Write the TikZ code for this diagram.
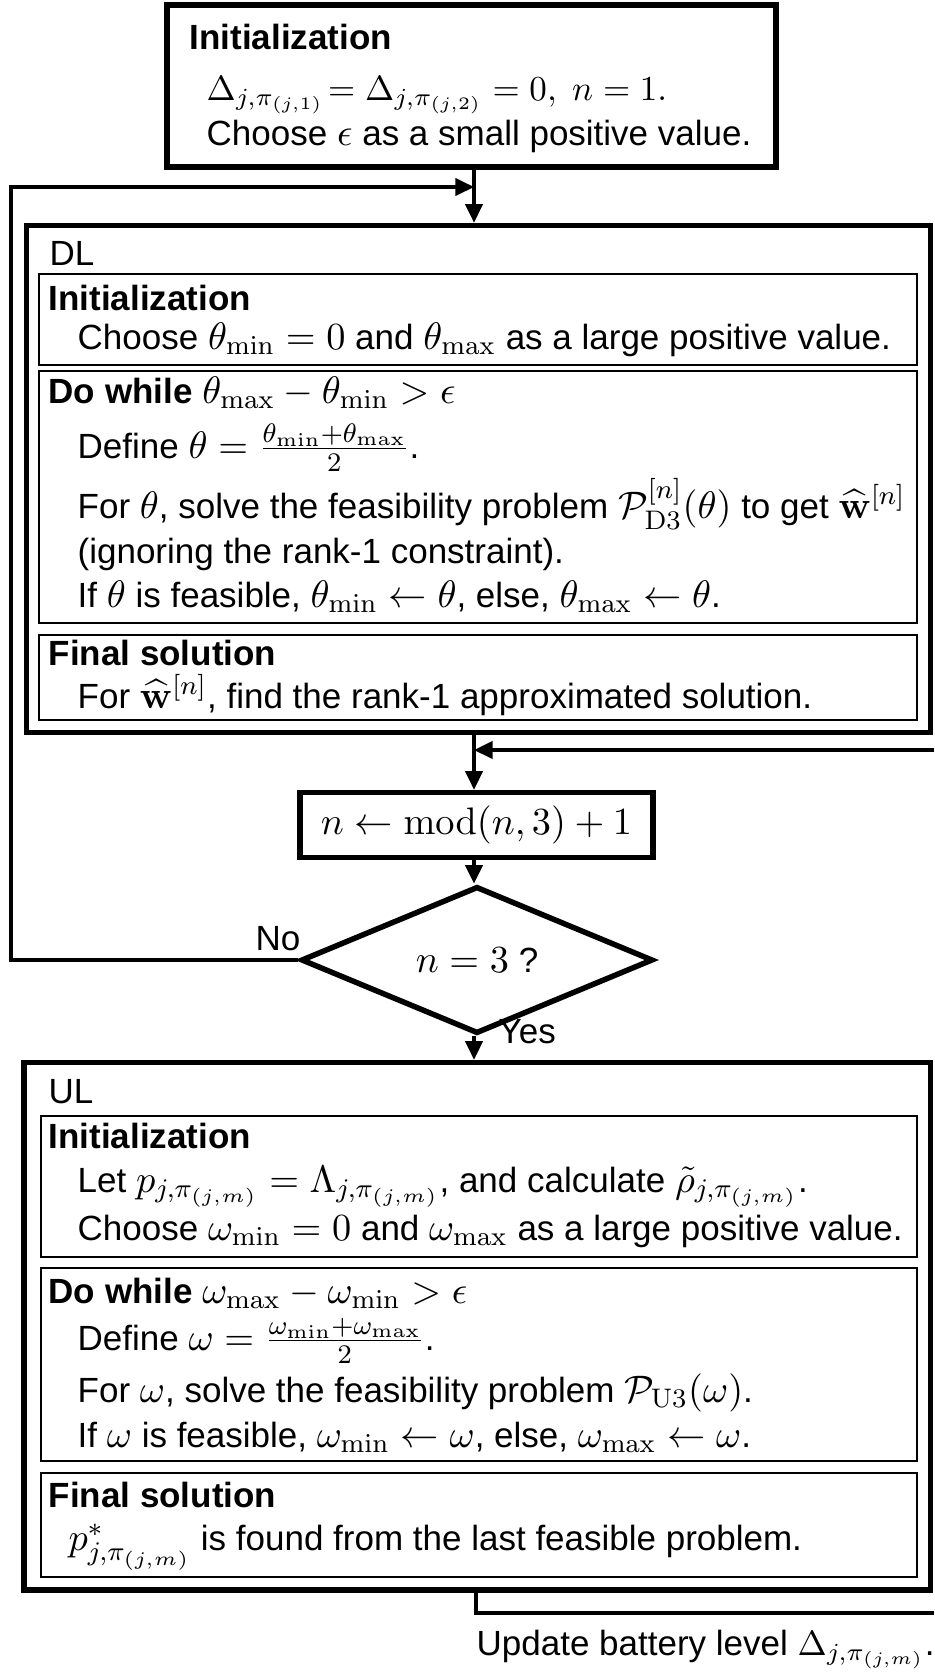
\documentclass[tikz,border=0pt]{standalone}
\usepackage{fix-cm}
\usepackage{amsmath}
\usepackage[no-math]{fontspec}
\setmainfont{Liberation Sans}
\usetikzlibrary{shapes.geometric,arrows.meta,fit}

% formulas are set a little larger than the surrounding text
\newcommand{\mth}[1]{{\fontsize{11.5}{12}\selectfont$#1$}}

% one drawing unit = one pixel of the 934 x 1673 layout (0.3pt)
\tikzset{
  bigbox/.style={draw, line width=1.65pt, inner sep=0pt, fit={#1}},
  subbox/.style={draw, line width=0.6pt, inner sep=0pt, fit={#1}},
  lbl/.style={inner sep=0pt, font=\fontsize{10.5}{12}\selectfont},
  txt/.style={lbl, anchor=base west},
  conn/.style={line width=1.05pt},
  arr/.style={conn, -{Triangle[length=5.6pt,width=5.2pt]}},
}

\begin{document}
\begin{tikzpicture}[x=0.3pt,y=-0.3pt]
\useasboundingbox (0,0) rectangle (934,1673);

% --- initial block ---
\node[bigbox={(167,5) (776,167)}] (top) {};
\node[txt] (tophead) at (189,50) {\textbf{Initialization}};
\node[txt] (topl1) at (206,100) {$\Delta_{j,\pi_{(j,1)}}\!=\Delta_{j,\pi_{(j,2)}}=0,\ n=1.$};
\node[txt] (topl2) at (206,145) {Choose \mth{\epsilon} as a small positive value.};

% --- downlink block ---
\node[bigbox={(26.5,225.5) (930.5,732.5)}] (dl) {};
\node[txt] (dlhead) at (49,265) {DL};
\node[subbox={(38.5,274) (916.5,365)}] (dlinit) {};
\node[txt] (dlinith) at (48,310) {\textbf{Initialization}};
\node[txt] (dlinit1) at (77,349) {Choose \mth{\theta_{\mathrm{min}}=0} and \mth{\theta_{\mathrm{max}}} as a large positive value.};
\node[subbox={(38.5,371) (916.5,623)}] (dlloop) {};
\node[txt] (dlloopl0) at (48,403) {\textbf{Do while} \mth{\theta_{\mathrm{max}}-\theta_{\mathrm{min}}>\epsilon}};
\node[txt] (dlloopl1) at (77,458) {Define \mth{\theta=\frac{\theta_{\mathrm{min}}+\theta_{\mathrm{max}}}{2}}.};
\node[txt] (dlloopl2) at (77,518) {For \mth{\theta}, solve the feasibility problem \mth{\mathcal{P}_{\mathrm{D3}}^{[n]}(\theta)} to get \mth{\widehat{\mathbf{w}}^{[n]}}};
\node[txt] (dlloopl3) at (77,563) {(ignoring the rank-1 constraint).};
\node[txt] (dlloopl4) at (77,607) {If \mth{\theta} is feasible, \mth{\theta_{\mathrm{min}}\leftarrow\theta}, else, \mth{\theta_{\mathrm{max}}\leftarrow\theta}.};
\node[subbox={(38.5,635) (916.5,720)}] (dlfin) {};
\node[txt] (dlfinh) at (48,665) {\textbf{Final solution}};
\node[txt] (dlfin1) at (77,708) {For \mth{\widehat{\mathbf{w}}^{[n]}}, find the rank-1 approximated solution.};

% --- index update and test ---
\node[bigbox={(300,792.5) (653,857.5)}] (mod) {};
\node[lbl] (modtxt) at (mod.center) {\mth{n\leftarrow\operatorname{mod}(n,3)+1}};
\node[lbl, draw, diamond, line width=1.65pt, minimum width=105.6pt, minimum height=27pt] (dia) at (477,960) {\mth{n=3} ?};
\node[txt, anchor=base east] (nolab) at (301,950) {No};
\node[txt] (yeslab) at (498,1043) {Yes};

% --- uplink block ---
\node[bigbox={(24,1062.5) (930.5,1590)}] (ul) {};
\node[txt] (ulhead) at (48,1103) {UL};
\node[subbox={(40.5,1116) (917,1257)}] (ulinit) {};
\node[txt] (ulinith) at (48,1148) {\textbf{Initialization}};
\node[txt] (ulinit1) at (77,1192) {Let \mth{p_{j,\pi_{(j,m)}}=\Lambda_{j,\pi_{(j,m)}}}, and calculate \mth{\tilde{\rho}_{j,\pi_{(j,m)}}}.};
\node[txt] (ulinit2) at (77,1240) {Choose \mth{\omega_{\mathrm{min}}=0} and \mth{\omega_{\mathrm{max}}} as a large positive value.};
\node[subbox={(40.5,1268) (917,1461)}] (ulloop) {};
\node[txt] (ulloopl0) at (48,1303) {\textbf{Do while} \mth{\omega_{\mathrm{max}}-\omega_{\mathrm{min}}>\epsilon}};
\node[txt] (ulloopl1) at (77,1350) {Define \mth{\omega=\frac{\omega_{\mathrm{min}}+\omega_{\mathrm{max}}}{2}}.};
\node[txt] (ulloopl2) at (77,1402) {For \mth{\omega}, solve the feasibility problem \mth{\mathcal{P}_{\mathrm{U3}}(\omega)}.};
\node[txt] (ulloopl3) at (77,1447) {If \mth{\omega} is feasible, \mth{\omega_{\mathrm{min}}\leftarrow\omega}, else, \mth{\omega_{\mathrm{max}}\leftarrow\omega}.};
\node[subbox={(40.5,1473) (917,1577)}] (ulfin) {};
\node[txt] (ulfinh) at (48,1507) {\textbf{Final solution}};
\node[txt] (ulfin1) at (68,1550) {\mth{p^{*}_{j,\pi_{(j,m)}}} is found from the last feasible problem.};
\node[txt] (upd) at (476,1655) {Update battery level $\Delta_{j,\pi_{(j,m)}}$.};

% --- connector waypoints ---
\coordinate (axis) at (474,0);
\coordinate (merge1) at (474,187);
\coordinate (loopl) at (11,0);
\coordinate (retin) at (934,750);
\coordinate (merge2) at (474,750);
\coordinate (outx) at (476,0);
\coordinate (outc) at (476,1613);
\coordinate (outr) at (934,1613);

% --- connectors ---
\draw[arr] (axis |- top.south) -- (axis |- dl.north);
\draw[arr] (axis |- dl.south) -- (axis |- mod.north);
\draw[arr] (retin) -- (merge2);
\draw[arr] (axis |- mod.south) -- (axis |- dia.north);
\draw[arr] (axis |- dia.south) -- (axis |- ul.north);
\draw[arr] (dia.west) -- (loopl |- dia.west) -- (loopl |- merge1) -- (merge1);
\draw[conn] (outx |- ul.south) -- (outc) -- (outr);
\end{tikzpicture}
\end{document}
